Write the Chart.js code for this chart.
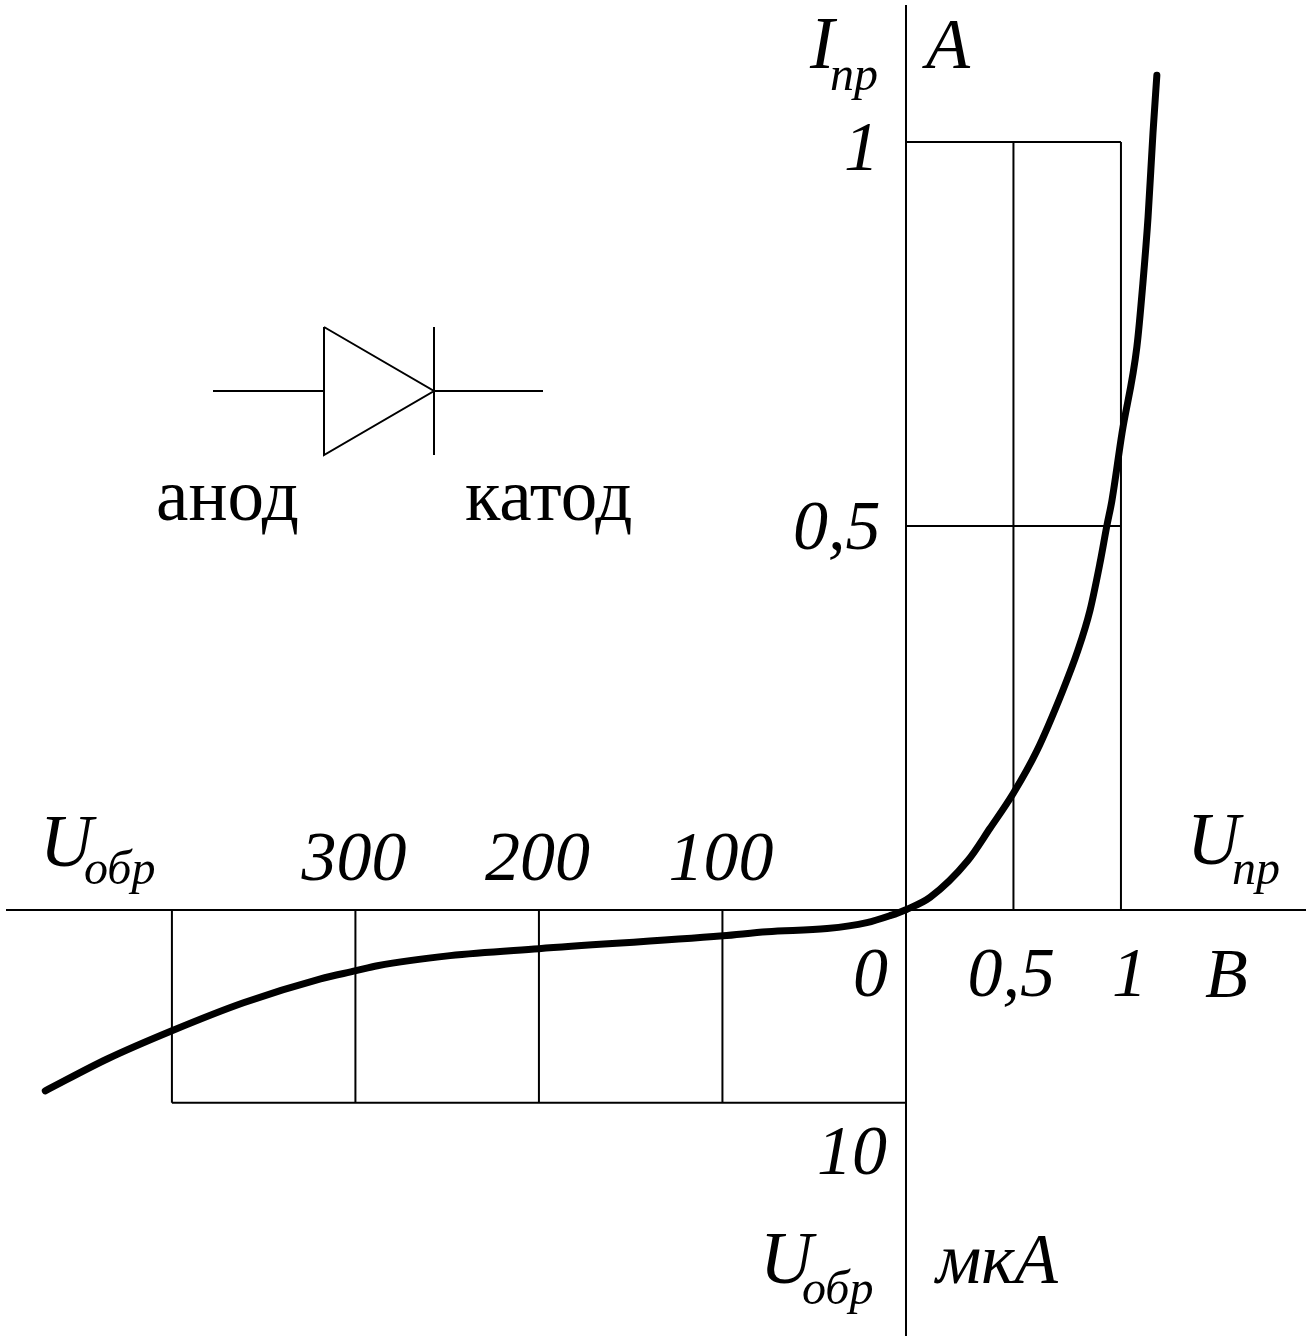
<!DOCTYPE html>
<html>
<head>
<meta charset="utf-8">
<title>Диод</title>
<script src="https://cdn.jsdelivr.net/npm/chart.js@4"></script>
<style>
  html, body { margin: 0; padding: 0; background: #fff; }
  canvas { display: block; }
</style>
</head>
<body>
<canvas id="diodeChart" width="1311" height="1341"></canvas>
<script>
// forward branch: volts, amps
const forwardU = [0, 0.112, 0.288, 0.391, 0.498, 0.609, 0.726, 0.8, 0.856, 0.902, 0.935, 0.958, 1.005, 1.074, 1.102, 1.126, 1.149, 1.167];
const forwardI = [0, 0.016, 0.064, 0.106, 0.151, 0.207, 0.283, 0.338, 0.39, 0.451, 0.501, 0.533, 0.621, 0.733, 0.816, 0.902, 1.012, 1.087];
// reverse branch: volts, microamps (both as positive numbers)
const reverseU = [469, 435, 400, 361, 319, 299.7, 288, 248.5, 200, 99.7, 75.7, 43, 21.3, 8.7];
const reverseI = [9.38, 7.72, 6.27, 4.82, 3.58, 3.16, 2.9, 2.38, 2.02, 1.35, 1.14, 0.98, 0.67, 0.31];

const forwardUTicks = [0.5, 1];
const forwardUTickLabels = ['0,5', '1'];
const forwardITicks = [0.5, 1];
const forwardITickLabels = ['0,5', '1'];
const reverseUTicks = [100, 200, 300, 400];
const reverseUTickLabels = ['100', '200', '300'];
const reverseITicks = [10];
const reverseITickLabels = ['10'];

// the two quadrants have their own units, the shared axes count in volts and amps
const reverseUScale = 0.8535 / 100;
const reverseIScale = 0.2516 / 10;

const reversePoint = (u, i) => ({ x: -u * reverseUScale, y: -i * reverseIScale });

const curve = reverseU.map((u, k) => reversePoint(u, reverseI[k]))
  .concat(forwardU.map((u, k) => ({ x: u, y: forwardI[k] })));

const gridLine = (points) => ({
  data: points,
  showLine: true,
  borderColor: '#000',
  borderWidth: 2,
  pointRadius: 0
});

const gridSets = [];
forwardUTicks.forEach((u) => gridSets.push(gridLine([{ x: u, y: 0 }, { x: u, y: Math.max(...forwardITicks) }])));
forwardITicks.forEach((i) => gridSets.push(gridLine([{ x: 0, y: i }, { x: Math.max(...forwardUTicks), y: i }])));
reverseUTicks.forEach((u) => gridSets.push(gridLine([reversePoint(u, 0), reversePoint(u, Math.max(...reverseITicks))])));
reverseITicks.forEach((i) => gridSets.push(gridLine([reversePoint(0, i), reversePoint(Math.max(...reverseUTicks), i)])));

const serif = '"Liberation Serif", "Times New Roman", serif';

function put (ctx, text, x, y, size, italic = true) {
  ctx.font = (italic ? 'italic ' : '') + size + 'px ' + serif;
  ctx.fillText(text, x, y);
}

/**
 * Axis captions, tick labels and the diode symbol
 */
const annotations = {
  id: 'annotations',
  afterDraw (chart) {
    const { ctx } = chart;
    const xs = chart.scales.x;
    const ys = chart.scales.y;
    ctx.save();
    ctx.fillStyle = '#000';
    ctx.textBaseline = 'alphabetic';

    // tick labels
    reverseUTickLabels.forEach((text, k) => {
      const px = xs.getPixelForValue(-reverseUTicks[k] * reverseUScale);
      put(ctx, text, px - 54, 880, 70);
    });
    put(ctx, '0', 853, 996, 70);
    put(ctx, forwardUTickLabels[0], xs.getPixelForValue(forwardUTicks[0]) - 46, 996, 70);
    put(ctx, forwardUTickLabels[1], xs.getPixelForValue(forwardUTicks[1]) - 9, 996, 70);
    put(ctx, forwardITickLabels[0], 793, ys.getPixelForValue(forwardITicks[0]) + 23, 70);
    put(ctx, forwardITickLabels[1], 844, ys.getPixelForValue(forwardITicks[1]) + 28, 70);
    put(ctx, reverseITickLabels[0], 817, ys.getPixelForValue(-reverseITicks[0] * reverseIScale) + 71, 70);

    // axis captions
    put(ctx, 'U', 40, 866, 73);
    put(ctx, 'обр', 84, 884, 48);
    put(ctx, 'U', 1187, 864, 73);
    put(ctx, 'пр', 1232, 884, 48);
    put(ctx, 'I', 810, 68, 73);
    put(ctx, 'пр', 830, 90, 48);
    put(ctx, 'А', 926, 68, 72);
    put(ctx, 'В', 1205, 997, 70);
    put(ctx, 'U', 760, 1283, 73);
    put(ctx, 'обр', 802, 1304, 48);
    put(ctx, 'мкА', 936, 1283, 71);

    // diode symbol
    ctx.strokeStyle = '#000';
    ctx.lineWidth = 2;
    ctx.beginPath();
    ctx.moveTo(213, 391);
    ctx.lineTo(324, 391);
    ctx.moveTo(324, 327);
    ctx.lineTo(324, 455);
    ctx.lineTo(434, 391);
    ctx.lineTo(324, 327);
    ctx.moveTo(434, 327);
    ctx.lineTo(434, 455);
    ctx.moveTo(434, 391);
    ctx.lineTo(543, 391);
    ctx.stroke();
    put(ctx, 'анод', 156, 520, 73, false);
    put(ctx, 'катод', 465, 520, 73, false);

    ctx.restore();
  }
};

const hiddenAxis = {
  type: 'linear',
  border: { display: true, color: '#000', width: 2 },
  grid: { display: false, drawTicks: false },
  ticks: { display: false }
};

new Chart(document.getElementById('diodeChart'), {
  type: 'scatter',
  data: {
    datasets: [{
      data: curve,
      showLine: true,
      borderColor: '#000',
      borderWidth: 7,
      borderCapStyle: 'round',
      borderJoinStyle: 'round',
      pointRadius: 0,
      cubicInterpolationMode: 'monotone'
    }].concat(gridSets)
  },
  plugins: [annotations],
  options: {
    responsive: false,
    animation: false,
    devicePixelRatio: 1,
    layout: { padding: { left: 7, right: 6, top: 6, bottom: 6 } },
    plugins: { legend: { display: false }, tooltip: { enabled: false } },
    scales: {
      x: Object.assign({}, hiddenAxis, { position: { y: 0 }, min: -4.181, max: 1.856 }),
      y: Object.assign({}, hiddenAxis, { position: { x: 0 }, min: -0.5541, max: 1.1773 })
    }
  }
});
</script>
</body>
</html>
